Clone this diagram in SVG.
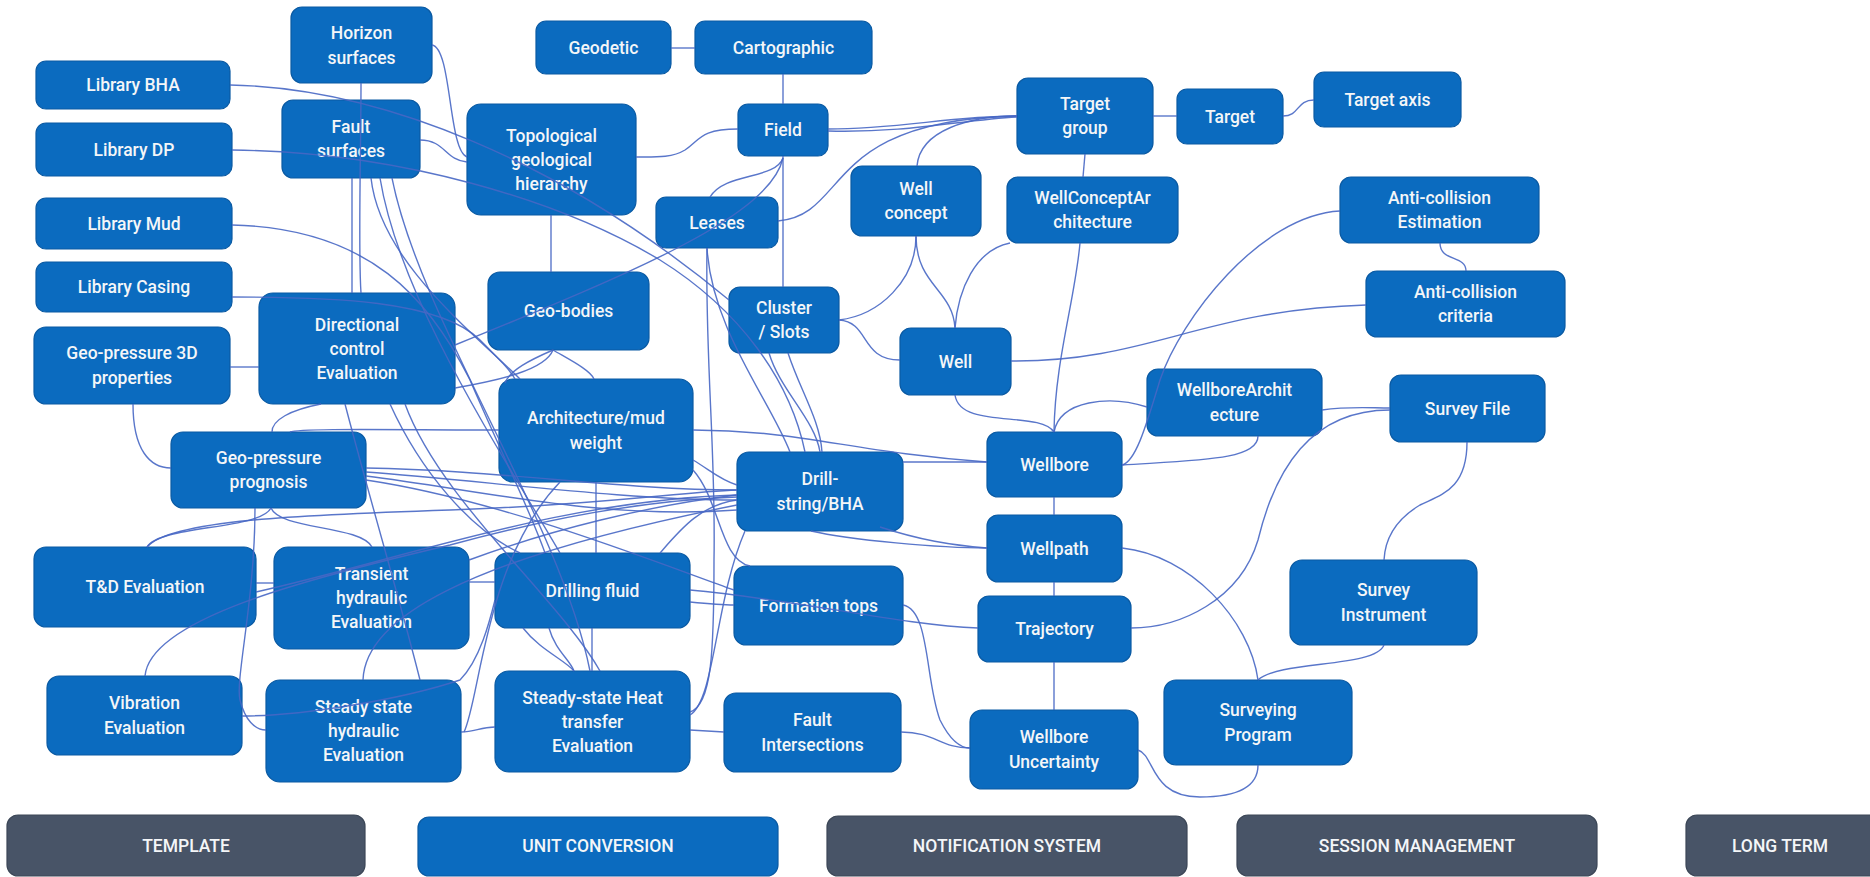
<svg xmlns="http://www.w3.org/2000/svg" width="1870" height="877" viewBox="0 0 1870 877">
<style>
.n rect{fill:#0b6bbf;stroke:#0a5aa3;stroke-width:1.2}
.g rect{fill:#485467;stroke:#3c4757;stroke-width:1.2}
text{fill:#f4f6f8;font-family:Roboto,"Open Sans",sans-serif;font-weight:500;font-size:17.5px;text-anchor:middle}
#connectors path{fill:none;stroke:#4767c4;stroke-width:1.4;stroke-opacity:0.9}
</style>
<rect x="0" y="0" width="1870" height="877" fill="#ffffff"/>
<g id="horizon" class="n"><rect x="291" y="7" width="141" height="76" rx="11"/><text x="361.5" y="39">Horizon</text><text x="361.5" y="63.5">surfaces</text></g>
<g id="geodetic" class="n"><rect x="536" y="21" width="135" height="53" rx="10"/><text x="603.5" y="53.5">Geodetic</text></g>
<g id="cartographic" class="n"><rect x="695" y="21" width="177" height="53" rx="10"/><text x="783.5" y="53.5">Cartographic</text></g>
<g id="libBHA" class="n"><rect x="36" y="61" width="194" height="48" rx="10"/><text x="133" y="91">Library BHA</text></g>
<g id="libDP" class="n"><rect x="36" y="123" width="196" height="53" rx="10"/><text x="134" y="155.5">Library DP</text></g>
<g id="fault" class="n"><rect x="282" y="100" width="138" height="78" rx="11"/><text x="351" y="132.75">Fault</text><text x="351" y="157.25">surfaces</text></g>
<g id="topo" class="n"><rect x="467" y="104" width="169" height="111" rx="14"/><text x="551.5" y="141.5">Topological</text><text x="551.5" y="165.5">geological</text><text x="551.5" y="189.5">hierarchy</text></g>
<g id="field" class="n"><rect x="738" y="104" width="90" height="52" rx="10"/><text x="783" y="136">Field</text></g>
<g id="targetGroup" class="n"><rect x="1017" y="78" width="136" height="76" rx="11"/><text x="1085" y="109.75">Target</text><text x="1085" y="134.25">group</text></g>
<g id="target" class="n"><rect x="1177" y="89" width="106" height="55" rx="10"/><text x="1230" y="122.5">Target</text></g>
<g id="targetAxis" class="n"><rect x="1314" y="72" width="147" height="55" rx="10"/><text x="1387.5" y="105.5">Target axis</text></g>
<g id="wellConcept" class="n"><rect x="851" y="166" width="130" height="70" rx="11"/><text x="916" y="194.75">Well</text><text x="916" y="219.25">concept</text></g>
<g id="wellConceptArch" class="n"><rect x="1007" y="177" width="171" height="66" rx="11"/><text x="1092.5" y="203.75">WellConceptAr</text><text x="1092.5" y="228.25">chitecture</text></g>
<g id="leases" class="n"><rect x="656" y="197" width="122" height="51" rx="10"/><text x="717" y="228.5">Leases</text></g>
<g id="acEstimation" class="n"><rect x="1340" y="177" width="199" height="66" rx="11"/><text x="1439.5" y="203.75">Anti-collision</text><text x="1439.5" y="228.25">Estimation</text></g>
<g id="acCriteria" class="n"><rect x="1366" y="271" width="199" height="66" rx="11"/><text x="1465.5" y="297.75">Anti-collision</text><text x="1465.5" y="322.25">criteria</text></g>
<g id="libMud" class="n"><rect x="36" y="198" width="196" height="51" rx="10"/><text x="134" y="229.5">Library Mud</text></g>
<g id="libCasing" class="n"><rect x="36" y="262" width="196" height="50" rx="10"/><text x="134" y="293">Library Casing</text></g>
<g id="geo3D" class="n"><rect x="34" y="327" width="196" height="77" rx="12"/><text x="132" y="359.25">Geo-pressure 3D</text><text x="132" y="383.75">properties</text></g>
<g id="dirCtrl" class="n"><rect x="259" y="293" width="196" height="111" rx="14"/><text x="357" y="330.5">Directional</text><text x="357" y="354.5">control</text><text x="357" y="378.5">Evaluation</text></g>
<g id="geoBodies" class="n"><rect x="488" y="272" width="161" height="78" rx="12"/><text x="568.5" y="317">Geo-bodies</text></g>
<g id="archMud" class="n"><rect x="499" y="379" width="194" height="103" rx="14"/><text x="596" y="424.25">Architecture/mud</text><text x="596" y="448.75">weight</text></g>
<g id="geoProg" class="n"><rect x="171" y="432" width="195" height="76" rx="12"/><text x="268.5" y="463.75">Geo-pressure</text><text x="268.5" y="488.25">prognosis</text></g>
<g id="tdEval" class="n"><rect x="34" y="547" width="222" height="80" rx="12"/><text x="145" y="593">T&amp;D Evaluation</text></g>
<g id="transient" class="n"><rect x="274" y="547" width="195" height="102" rx="14"/><text x="371.5" y="580">Transient</text><text x="371.5" y="604">hydraulic</text><text x="371.5" y="628">Evaluation</text></g>
<g id="drillFluid" class="n"><rect x="495" y="553" width="195" height="75" rx="12"/><text x="592.5" y="596.5">Drilling fluid</text></g>
<g id="vibration" class="n"><rect x="47" y="676" width="195" height="79" rx="12"/><text x="144.5" y="709.25">Vibration</text><text x="144.5" y="733.75">Evaluation</text></g>
<g id="ssHydraulic" class="n"><rect x="266" y="680" width="195" height="102" rx="14"/><text x="363.5" y="713">Steady state</text><text x="363.5" y="737">hydraulic</text><text x="363.5" y="761">Evaluation</text></g>
<g id="ssHeat" class="n"><rect x="495" y="671" width="195" height="101" rx="14"/><text x="592.5" y="703.5">Steady-state Heat</text><text x="592.5" y="727.5">transfer</text><text x="592.5" y="751.5">Evaluation</text></g>
<g id="cluster" class="n"><rect x="729" y="287" width="110" height="66" rx="11"/><text x="784" y="313.75">Cluster</text><text x="784" y="338.25">/ Slots</text></g>
<g id="well" class="n"><rect x="900" y="328" width="111" height="67" rx="11"/><text x="955.5" y="367.5">Well</text></g>
<g id="wellboreArch" class="n"><rect x="1147" y="369" width="175" height="67" rx="11"/><text x="1234.5" y="396.25">WellboreArchit</text><text x="1234.5" y="420.75">ecture</text></g>
<g id="wellbore" class="n"><rect x="987" y="432" width="135" height="65" rx="11"/><text x="1054.5" y="470.5">Wellbore</text></g>
<g id="drillString" class="n"><rect x="737" y="452" width="166" height="79" rx="12"/><text x="820" y="485.25">Drill-</text><text x="820" y="509.75">string/BHA</text></g>
<g id="wellpath" class="n"><rect x="987" y="515" width="135" height="67" rx="11"/><text x="1054.5" y="554.5">Wellpath</text></g>
<g id="surveyFile" class="n"><rect x="1390" y="375" width="155" height="67" rx="11"/><text x="1467.5" y="414.5">Survey File</text></g>
<g id="formationTops" class="n"><rect x="734" y="566" width="169" height="79" rx="12"/><text x="818.5" y="611.5">Formation tops</text></g>
<g id="trajectory" class="n"><rect x="978" y="596" width="153" height="66" rx="11"/><text x="1054.5" y="635">Trajectory</text></g>
<g id="faultInt" class="n"><rect x="724" y="693" width="177" height="79" rx="12"/><text x="812.5" y="726.25">Fault</text><text x="812.5" y="750.75">Intersections</text></g>
<g id="wellboreUnc" class="n"><rect x="970" y="710" width="168" height="79" rx="12"/><text x="1054" y="743.25">Wellbore</text><text x="1054" y="767.75">Uncertainty</text></g>
<g id="surveyingProg" class="n"><rect x="1164" y="680" width="188" height="85" rx="12"/><text x="1258" y="716.25">Surveying</text><text x="1258" y="740.75">Program</text></g>
<g id="surveyInstr" class="n"><rect x="1290" y="560" width="187" height="85" rx="12"/><text x="1383.5" y="596.25">Survey</text><text x="1383.5" y="620.75">Instrument</text></g>
<g id="template" class="g"><rect x="7" y="815" width="358" height="61" rx="11"/><text x="186" y="852">TEMPLATE</text></g>
<g id="unitConversion" class="n"><rect x="418" y="817" width="360" height="59" rx="11"/><text x="598" y="852">UNIT CONVERSION</text></g>
<g id="notification" class="g"><rect x="827" y="816" width="360" height="60" rx="11"/><text x="1007" y="852">NOTIFICATION SYSTEM</text></g>
<g id="session" class="g"><rect x="1237" y="815" width="360" height="61" rx="11"/><text x="1417" y="852">SESSION MANAGEMENT</text></g>
<g id="longTerm" class="g"><rect x="1686" y="815" width="200" height="61" rx="11"/><text x="1780" y="852">LONG TERM</text></g>
<g id="connectors">
<path d="M671,48 L695,48"/>
<path d="M783,74 L783,104"/>
<path d="M783,156 L783,287"/>
<path d="M738,129 C700,129 700,140 685,150 C672,158 655,157 636,157"/>
<path d="M783,158 C775,180 725,172 710,197"/>
<path d="M783,158 C770,215 640,270 455,345"/>
<path d="M828,129 C900,129 950,116 1017,116"/>
<path d="M828,131 C910,133 960,120 1017,117"/>
<path d="M778,221 C850,215 820,120 1017,116"/>
<path d="M917,166 C920,130 970,116 1017,116"/>
<path d="M1153,116 L1177,116"/>
<path d="M1283,116 C1300,116 1296,100 1314,100"/>
<path d="M1085,154 L1083,177"/>
<path d="M432,45 C452,48 448,150 467,157"/>
<path d="M420,140 C445,140 445,160 467,162"/>
<path d="M230,85 C380,88 560,160 729,300"/>
<path d="M232,150 C400,152 560,200 660,260 C740,310 790,380 805,452"/>
<path d="M232,225 C370,228 430,300 470,380 C500,450 530,510 545,553"/>
<path d="M232,297 C330,297 440,300 480,340 C500,360 510,370 515,379"/>
<path d="M230,367 L259,367"/>
<path d="M133,404 C133,450 150,468 171,468"/>
<path d="M455,388 C500,380 545,370 553,350"/>
<path d="M551,215 L551,272"/>
<path d="M707,248 C712,330 770,400 790,452"/>
<path d="M839,320 C880,315 916,280 916,236"/>
<path d="M839,320 C870,322 860,360 900,360"/>
<path d="M916,236 C916,285 953,290 955,328"/>
<path d="M1010,243 C975,250 958,290 955,328"/>
<path d="M1080,243 C1075,300 1055,360 1054,432"/>
<path d="M955,395 C960,430 1040,410 1054,432"/>
<path d="M1011,361 C1150,362 1200,310 1366,305"/>
<path d="M1440,243 C1440,262 1466,255 1466,271"/>
<path d="M1340,211 C1260,215 1180,320 1160,380 C1145,430 1135,462 1122,465"/>
<path d="M1054,432 C1060,400 1110,395 1147,407"/>
<path d="M1122,465 C1200,460 1258,460 1258,436"/>
<path d="M1322,410 C1350,406 1370,408 1390,408"/>
<path d="M1390,410 C1310,410 1275,470 1258,540 C1240,600 1180,628 1131,628"/>
<path d="M1122,548 C1190,555 1250,620 1258,680"/>
<path d="M1467,442 C1467,490 1440,495 1420,505 C1395,520 1385,540 1384,560"/>
<path d="M1384,645 C1375,668 1280,660 1258,680"/>
<path d="M1258,765 C1258,785 1240,797 1200,797 C1150,797 1155,755 1138,750"/>
<path d="M1054,497 L1054,515"/>
<path d="M1054,582 L1054,596"/>
<path d="M1054,662 L1054,710"/>
<path d="M903,605 C930,610 925,680 940,720 C950,740 960,748 970,748"/>
<path d="M901,732 C935,732 940,748 970,748"/>
<path d="M690,730 L724,732"/>
<path d="M903,462 L987,462"/>
<path d="M811,531 C850,540 940,548 987,548"/>
<path d="M880,527 C920,540 950,545 987,548"/>
<path d="M693,430 C800,430 850,452 987,462"/>
<path d="M690,590 C800,600 900,625 978,628"/>
<path d="M690,602 C710,604 720,605 734,605"/>
<path d="M366,468 C500,470 620,490 737,490"/>
<path d="M366,472 C480,480 620,500 737,500"/>
<path d="M366,476 C480,490 600,520 737,510"/>
<path d="M147,547 C170,520 300,515 450,510 C600,505 680,492 737,490"/>
<path d="M271,508 C280,530 360,525 372,547"/>
<path d="M147,547 C160,525 260,530 271,508"/>
<path d="M469,582 L495,582"/>
<path d="M256,583 L274,583"/>
<path d="M256,592 C400,560 560,500 737,495"/>
<path d="M145,676 C150,620 300,580 450,545 C560,515 650,500 737,497"/>
<path d="M242,716 C300,716 400,700 460,680 C480,660 490,620 495,600"/>
<path d="M363,680 C365,620 460,560 737,505"/>
<path d="M461,732 C475,732 480,727 495,727"/>
<path d="M464,732 C480,700 485,560 560,482"/>
<path d="M690,715 C715,700 715,600 745,531"/>
<path d="M707,248 C705,360 716,450 714,560 C714,650 712,705 690,712"/>
<path d="M321,404 C290,410 272,420 272,432"/>
<path d="M290,432 C300,428 400,430 499,430"/>
<path d="M361,83 C361,150 358,250 361,293"/>
<path d="M371,178 C380,260 470,330 520,379"/>
<path d="M380,178 C400,300 500,450 560,553"/>
<path d="M392,178 C420,320 560,520 590,671"/>
<path d="M352,178 L352,293"/>
<path d="M390,404 C420,470 470,530 520,553"/>
<path d="M405,404 C440,500 560,600 600,671"/>
<path d="M345,404 C370,500 400,600 420,680"/>
<path d="M553,350 C530,360 510,370 505,383"/>
<path d="M553,350 C570,360 590,370 594,379"/>
<path d="M596,482 L596,553"/>
<path d="M523,628 C540,650 565,660 574,671"/>
<path d="M592,628 L592,671"/>
<path d="M549,628 C555,650 570,660 574,671"/>
<path d="M693,460 C710,470 720,480 737,485"/>
<path d="M660,553 C680,530 700,505 737,500"/>
<path d="M469,560 C550,530 650,505 737,495"/>
<path d="M769,353 C780,390 815,420 820,452"/>
<path d="M788,353 C800,390 820,420 822,452"/>
<path d="M366,480 C500,500 650,560 734,590"/>
<path d="M693,470 C720,500 720,560 750,566"/>
<path d="M255,508 C255,600 235,680 240,700 C245,720 255,730 266,730"/>
</g>
</svg>
